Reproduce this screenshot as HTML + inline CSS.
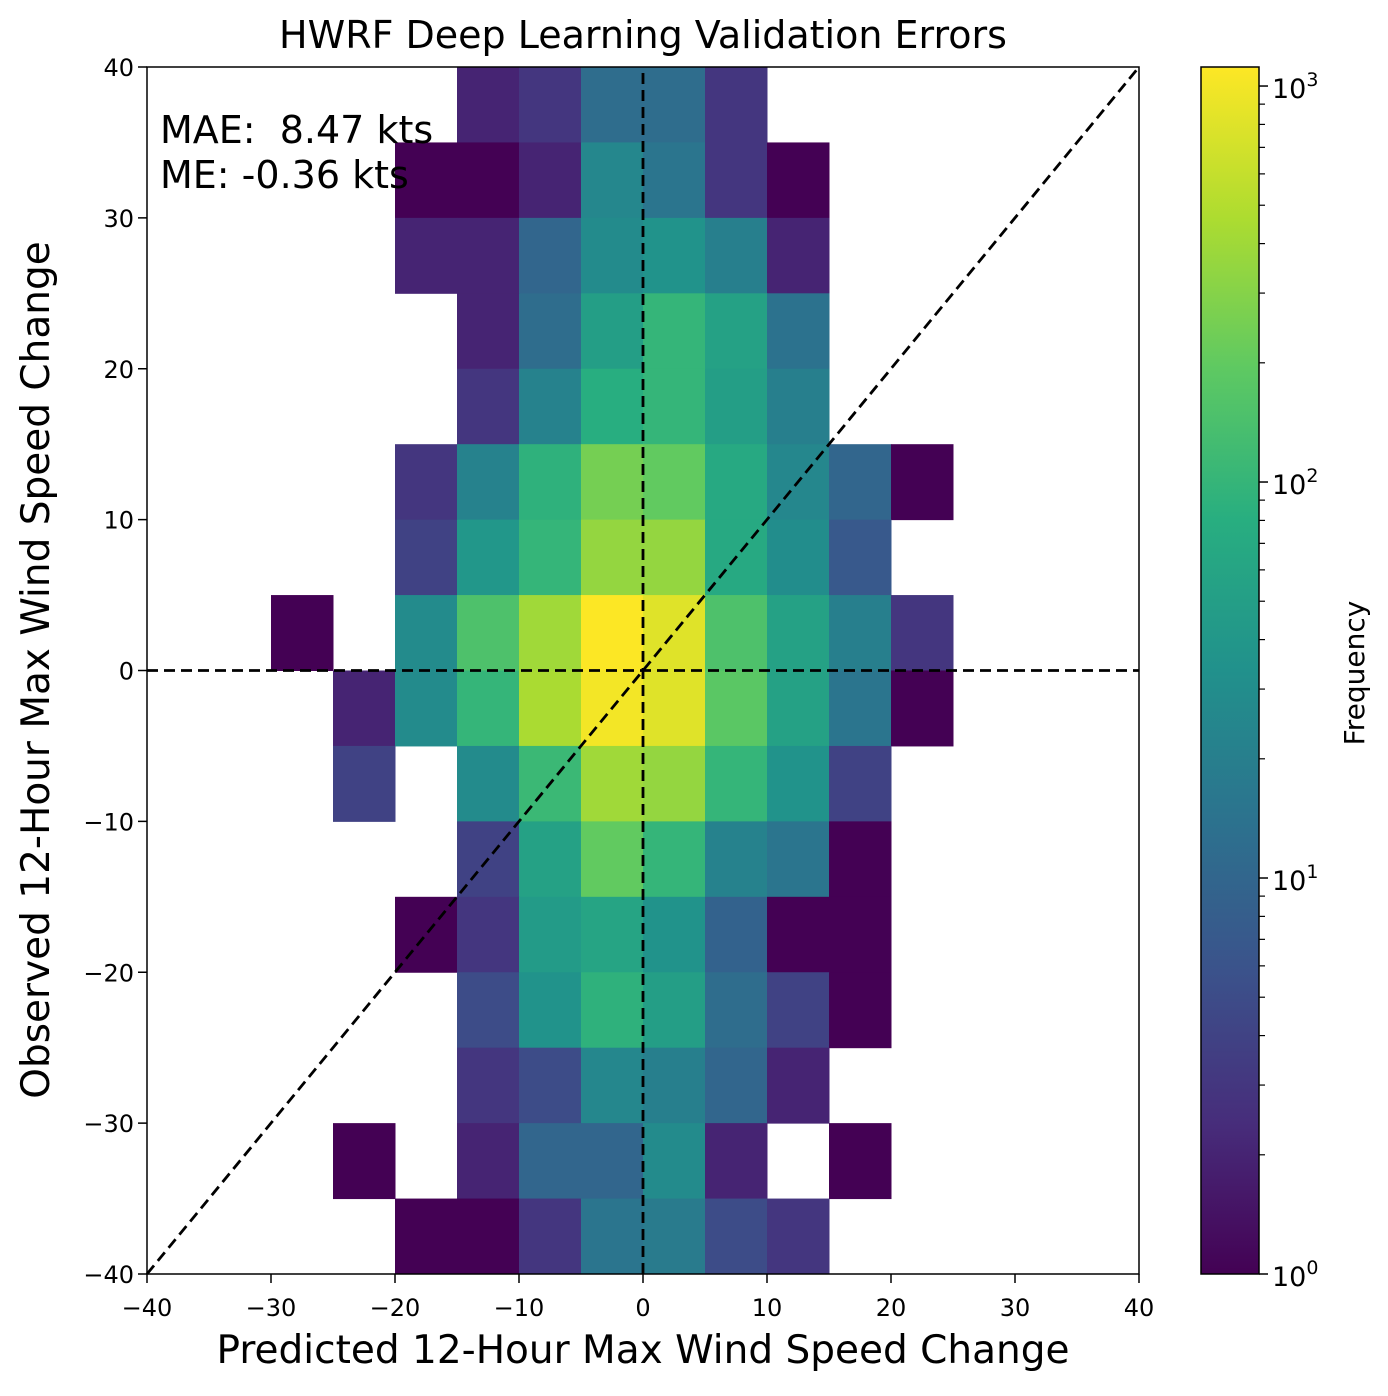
<!DOCTYPE html>
<html><head><meta charset="utf-8"><style>
body{margin:0;background:#fff;}
svg text{font-family:"DejaVu Sans","Liberation Sans",sans-serif;fill:#000;}
</style></head><body>
<svg id="chart" width="1388" height="1391" viewBox="0 0 1388 1391" xmlns="http://www.w3.org/2000/svg">
<defs><linearGradient id="vgrad" x1="0" y1="1" x2="0" y2="0">
<stop offset="0" stop-color="#440154"/><stop offset="0.125" stop-color="#472d7b"/><stop offset="0.25" stop-color="#3b528b"/><stop offset="0.375" stop-color="#2c728e"/><stop offset="0.5" stop-color="#21918c"/><stop offset="0.625" stop-color="#28ae80"/><stop offset="0.75" stop-color="#5ec962"/><stop offset="0.875" stop-color="#addc30"/><stop offset="1" stop-color="#fde725"/>
</linearGradient></defs>
<g id="cells"></g>
<g id="lines"></g>
<rect x="147" y="67" width="992" height="1207" fill="none" stroke="#000" stroke-width="1.5"/>
<g id="axes"></g>
<text x="643" y="48" style="font-size:38px" text-anchor="middle">HWRF Deep Learning Validation Errors</text>
<text x="643" y="1363" style="font-size:39px" text-anchor="middle">Predicted 12-Hour Max Wind Speed Change</text>
<text transform="translate(49,670) rotate(-90)" style="font-size:39px" text-anchor="middle">Observed 12-Hour Max Wind Speed Change</text>
<text x="160" y="143" style="font-size:38px" xml:space="preserve">MAE:  8.47 kts</text>
<text x="160" y="188" style="font-size:38px">ME: -0.36 kts</text>
<rect x="1201" y="67" width="58" height="1207" fill="url(#vgrad)" stroke="#000" stroke-width="1.5"/>
<g id="cbaxis"></g>
<text transform="translate(1364,673) rotate(-90)" style="font-size:28px" text-anchor="middle">Frequency</text>
</svg>
<script>
const binEdgesStart = -40;
const binWidth = 5;
const xTicks = [-40,-30,-20,-10,0,10,20,30,40];
const yTicks = [-40,-30,-20,-10,0,10,20,30,40];
const cbTickExps = [0,1,2,3];
const cbTickLabels = ["10","10","10","10"];
const counts = [
[0,0,0,0,0,2,3,12,12,3,0,0,0,0,0,0],
[0,0,0,0,1,1,2,25,15,3,1,0,0,0,0,0],
[0,0,0,0,2,2,10,28,35,20,2,0,0,0,0,0],
[0,0,0,0,0,2,12,50,100,55,14,0,0,0,0,0],
[0,0,0,0,0,3,22,80,100,50,20,0,0,0,0,0],
[0,0,0,0,3,22,90,250,200,70,25,10,1,0,0,0],
[0,0,0,0,4,40,100,350,350,70,30,7,0,0,0,0],
[0,0,1,0,28,150,400,1100,800,150,55,20,3,0,0,0],
[0,0,0,2,28,100,450,1000,800,180,55,15,1,0,0,0],
[0,0,0,4,0,28,110,400,350,100,35,4,0,0,0,0],
[0,0,0,0,0,4,55,200,100,22,15,1,0,0,0,0],
[0,0,0,0,1,3,45,60,35,9,1,1,0,0,0,0],
[0,0,0,0,0,5,35,90,50,12,4,1,0,0,0,0],
[0,0,0,0,0,3,5,25,20,10,2,0,0,0,0,0],
[0,0,0,1,0,2,10,10,28,2,0,1,0,0,0,0],
[0,0,0,0,1,1,3,15,18,5,3,0,0,0,0,0]
];
const VMAX = 1117;
const X0=147,X1=1139,Y0=67,Y1=1274;
const xs=v=>X0+(v+40)/80*(X1-X0);
const ys=v=>Y1-(v+40)/80*(Y1-Y0);
const cbY=v=>Y1-Math.log10(v)/Math.log10(VMAX)*(Y1-Y0);
const stops=["#440154","#472d7b","#3b528b","#2c728e","#21918c","#28ae80","#5ec962","#addc30","#fde725"];
function hx(c){return [1,3,5].map(i=>parseInt(c.substr(i,2),16));}
function viridis(t){t=Math.max(0,Math.min(1,t));const p=t*8,i=Math.min(7,Math.floor(p)),f=p-i;const a=hx(stops[i]),b=hx(stops[i+1]);return `rgb(${a.map((v,k)=>Math.round(v+(b[k]-v)*f)).join(',')})`;}
const NS="http://www.w3.org/2000/svg";
function mk(tag,attrs,parent){const e=document.createElementNS(NS,tag);for(const k in attrs)e.setAttribute(k,attrs[k]);parent.appendChild(e);return e;}
const cells=document.getElementById('cells');
counts.forEach((row,r)=>row.forEach((c,i)=>{
  if(!c)return;
  const lo=binEdgesStart+i*binWidth, top=binEdgesStart+(16-r)*binWidth;
  const x=xs(lo),y=ys(top);
  const e=mk('rect',{x:x,y:y,width:xs(lo+binWidth)-x+0.5,height:ys(top-binWidth)-y+0.5,fill:viridis(Math.log10(c)/Math.log10(VMAX))},cells);
  
  
}));
const lines=document.getElementById('lines');
const ln=[[xs(-40),ys(-40),xs(40),ys(40),'diagonal-line'],[xs(-40),ys(0),xs(40),ys(0),'zero-obs-line'],[xs(0),ys(-40),xs(0),ys(40),'zero-pred-line']];
ln.forEach(l=>{const e=mk('line',{x1:l[0],y1:l[1],x2:l[2],y2:l[3],stroke:'#000','stroke-width':2.8,'stroke-dasharray':'11,6'},lines);

});
const ax=document.getElementById('axes');
const lab=v=>v<0?'\u2212'+(-v):''+v;
xTicks.forEach(v=>{mk('line',{x1:xs(v),x2:xs(v),y1:Y1,y2:Y1+9,stroke:'#000','stroke-width':1.5},ax);
const t=mk('text',{x:xs(v),y:Y1+42,style:'font-size:24px','text-anchor':'middle'},ax);t.textContent=lab(v);

});
yTicks.forEach(v=>{mk('line',{x1:X0-9,x2:X0,y1:ys(v),y2:ys(v),stroke:'#000','stroke-width':1.5},ax);
const t=mk('text',{x:X0-13,y:ys(v)+9,style:'font-size:24px','text-anchor':'end'},ax);t.textContent=lab(v);

});
const cb=document.getElementById('cbaxis');
cbTickExps.forEach(e=>{
  const y=cbY(Math.pow(10,e));
  mk('line',{x1:1259,x2:1268,y1:y,y2:y,stroke:'#000','stroke-width':1.5},cb);
  const t=mk('text',{x:1272,y:y+12,style:'font-size:27px'},cb);t.textContent=cbTickLabels[e];
  
  
  const s=mk('tspan',{dy:-12,style:'font-size:19px'},t);s.textContent=e;
  for(let m=2;m<=9;m++){const v=m*Math.pow(10,e);if(v>VMAX)break;const yy=cbY(v);mk('line',{x1:1259,x2:1265,y1:yy,y2:yy,stroke:'#000','stroke-width':1.2},cb);}
});
</script>
</body></html>
